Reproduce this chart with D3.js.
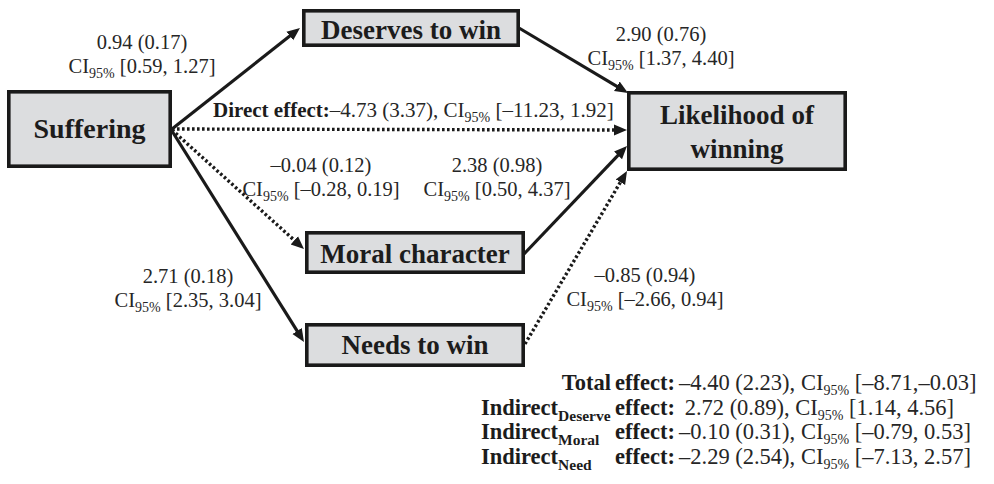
<!DOCTYPE html>
<html>
<head>
<meta charset="utf-8">
<script src="https://d3js.org/d3.v7.min.js"></script>
<style>
  body { margin: 0; background: #fff; }
</style>
</head>
<body>
<svg width="994" height="484"></svg>
<script>
  // nodes of the mediation model
  var nodeIds = ["suffering", "deserve", "moral", "need", "likelihood"];
  var nodeLabels = [["Suffering"], ["Deserves to win"], ["Moral character"], ["Needs to win"], ["Likelihood of", "winning"]];

  // paths: from, to, estimate, SE, CI low, CI high, significant?
  var pathFrom = ["suffering", "deserve", "suffering", "moral", "suffering", "need", "suffering"];
  var pathTo = ["deserve", "likelihood", "moral", "likelihood", "need", "likelihood", "likelihood"];
  var pathEst = [0.94, 2.90, -0.04, 2.38, 2.71, -0.85, -4.73];
  var pathSE = [0.17, 0.76, 0.12, 0.98, 0.18, 0.94, 3.37];
  var pathLo = [0.59, 1.37, -0.28, 0.50, 2.35, -2.66, -11.23];
  var pathHi = [1.27, 4.40, 0.19, 4.37, 3.04, 0.94, 1.92];
  var pathSig = [true, true, false, true, true, false, false];

  // summary effects
  var effectNames = ["Total", "Indirect", "Indirect", "Indirect"];
  var effectSubs = ["", "Deserve", "Moral", "Need"];
  var effectEst = [-4.40, 2.72, -0.10, -2.29];
  var effectSE = [2.23, 0.89, 0.31, 2.54];
  var effectLo = [-8.71, 1.14, -0.79, -7.13];
  var effectHi = [-0.03, 4.56, 0.53, 2.57];

  // layout (outer box edges: x0, y0, x1, y1 and text baselines)
  var boxLayout = {
    suffering: { b: [7, 90, 172, 168], base: [138], size: 28 },
    deserve: { b: [302, 9, 520, 47], base: [39], size: 27 },
    moral: { b: [305, 231, 525, 274], base: [263], size: 27 },
    need: { b: [305, 323, 525, 367], base: [354], size: 27 },
    likelihood: { b: [627, 91, 847, 171], base: [124, 158], size: 27 }
  };
  // arrow start / tip points, per path
  var arrowLayout = [
    [[172, 129], [300, 28]],
    [[519, 28], [628, 93]],
    [[172, 130], [304, 249]],
    [[524, 254], [627, 146]],
    [[172, 131], [304, 342]],
    [[525, 344], [627, 171]],
    [[172, 129], [627, 130]]
  ];
  // label centre x and first baseline, per path (last = direct effect, left aligned)
  var labelLayout = [[142, 49], [661, 41], [321, 172], [497, 172], [188, 283], [645, 282], [213, 117]];

  var svg = d3.select("svg");
  var fmt = d3.format(".2f");
  function num(v) { return (v < 0 ? "\u2013" : "") + fmt(Math.abs(v)); }

  svg.append("defs").append("marker")
    .attr("id", "head")
    .attr("markerUnits", "userSpaceOnUse")
    .attr("markerWidth", 16).attr("markerHeight", 14)
    .attr("viewBox", "0 -7 16 14")
    .attr("refX", 2).attr("refY", 0)
    .attr("orient", "auto")
    .append("path")
    .attr("d", "M0,-5.5L13,0L0,5.5Z")
    .attr("fill", "#1a1a1a");

  // arrows
  var arrows = svg.append("g");
  pathFrom.forEach(function (f, i) {
    var s = arrowLayout[i][0], t = arrowLayout[i][1];
    var dx = t[0] - s[0], dy = t[1] - s[1], len = Math.sqrt(dx * dx + dy * dy);
    var ex = t[0] - dx / len * 11, ey = t[1] - dy / len * 11;
    arrows.append("line")
      .attr("x1", s[0]).attr("y1", s[1])
      .attr("x2", ex).attr("y2", ey)
      .attr("stroke", "#1a1a1a")
      .attr("stroke-width", pathSig[i] ? 3.2 : 3.4)
      .attr("stroke-dasharray", pathSig[i] ? null : "2.6,2.4")
      .attr("marker-end", "url(#head)");
  });

  // boxes
  var sw = 3.6;
  var boxes = svg.selectAll(".box").data(nodeIds).enter().append("g").attr("class", "box");
  boxes.append("rect")
    .attr("x", function (d) { return boxLayout[d].b[0] + sw / 2; })
    .attr("y", function (d) { return boxLayout[d].b[1] + sw / 2; })
    .attr("width", function (d) { return boxLayout[d].b[2] - boxLayout[d].b[0] - sw; })
    .attr("height", function (d) { return boxLayout[d].b[3] - boxLayout[d].b[1] - sw; })
    .attr("fill", "#dcdddf")
    .attr("stroke", "#1a1a1a")
    .attr("stroke-width", sw);
  boxes.each(function (d, i) {
    var L = boxLayout[d];
    var cx = (L.b[0] + L.b[2]) / 2;
    nodeLabels[i].forEach(function (line, j) {
      d3.select(this).append("text")
        .attr("x", cx).attr("y", L.base[j])
        .attr("text-anchor", "middle")
        .attr("font-size", L.size).attr("font-weight", "bold")
        .attr("fill", "#1c1c1c")
        .text(line);
    }, this);
  });

  function addCI(t, lo, hi, sep) {
    t.append("tspan").text("CI");
    t.append("tspan").attr("font-size", 14).attr("dy", 5).text("95%");
    t.append("tspan").attr("dy", -5).text(" [" + num(lo) + "," + sep + num(hi) + "]");
  }

  // path labels
  var labels = svg.append("g").attr("fill", "#262626").attr("font-size", 20.5);
  pathFrom.forEach(function (f, i) {
    var p = labelLayout[i];
    if (i === pathFrom.length - 1) {
      var t = labels.append("text").attr("x", p[0]).attr("y", p[1]).attr("font-size", 21);
      t.append("tspan").attr("font-weight", "bold").attr("fill", "#1c1c1c").text("Direct effect:");
      t.append("tspan").text(num(pathEst[i]) + " (" + fmt(pathSE[i]) + "), ");
      addCI(t, pathLo[i], pathHi[i], " ");
      return;
    }
    labels.append("text").attr("x", p[0]).attr("y", p[1]).attr("text-anchor", "middle")
      .text(num(pathEst[i]) + " (" + fmt(pathSE[i]) + ")");
    var t2 = labels.append("text").attr("x", p[0]).attr("y", p[1] + 24).attr("text-anchor", "middle");
    addCI(t2, pathLo[i], pathHi[i], " ");
  });

  // summary block
  var rows = svg.append("g").attr("font-size", 22.5);
  var rowBase = [390, 414.5, 439, 463.5];
  effectNames.forEach(function (name, i) {
    var y = rowBase[i];
    if (effectSubs[i] === "") {
      rows.append("text").attr("x", 611).attr("y", y).attr("text-anchor", "end")
        .attr("font-weight", "bold").attr("fill", "#1c1c1c").text(name);
    } else {
      var l = rows.append("text").attr("x", 481).attr("y", y)
        .attr("font-weight", "bold").attr("fill", "#1c1c1c");
      l.append("tspan").text(name);
      l.append("tspan").attr("font-size", 15.5).attr("dy", 6).text(effectSubs[i]);
    }
    rows.append("text").attr("x", 615).attr("y", y)
      .attr("font-weight", "bold").attr("fill", "#1c1c1c").text("effect:");
    var v = rows.append("text").attr("x", 679).attr("y", y).attr("fill", "#262626");
    v.append("tspan").text((effectEst[i] < 0 ? "" : "\u00a0") + num(effectEst[i]) + " (" + fmt(effectSE[i]) + "), ");
    addCI(v, effectLo[i], effectHi[i], i === 0 ? "" : " ");
  });

  svg.selectAll("text").style("font-family", "'Liberation Serif'");
</script>
</body>
</html>
